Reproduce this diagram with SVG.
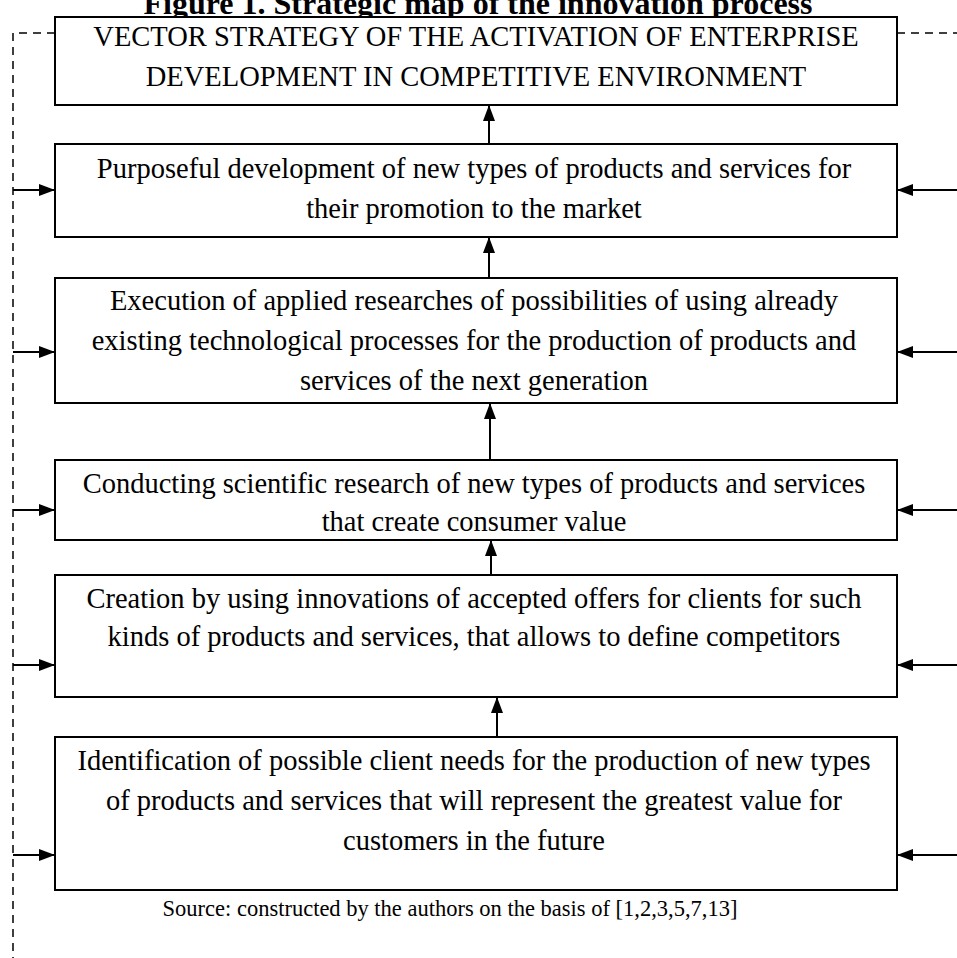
<svg xmlns="http://www.w3.org/2000/svg" width="957" height="958" viewBox="0 0 957 958">
<style>
.box{fill:#fff;stroke:#000;stroke-width:2}
.t{font-family:"Liberation Serif","Times New Roman",serif;font-size:28.5px;fill:#000;text-anchor:middle}
.ln{stroke:#000;stroke-width:2;fill:none}
.dash{stroke:#000;stroke-width:1.5;fill:none;stroke-dasharray:8,6}
.src{font-family:"Liberation Serif","Times New Roman",serif;font-size:22.5px;fill:#000;text-anchor:middle}
.ttl{font-family:"Liberation Serif","Times New Roman",serif;font-size:32px;font-weight:bold;fill:#000;text-anchor:middle}
</style>
<defs>
<marker id="ah" markerWidth="16" markerHeight="12" refX="15" refY="6" orient="auto" markerUnits="userSpaceOnUse">
<path d="M0,0 L16,6 L0,12 Z" fill="#000"/>
</marker>
</defs>
<text class="ttl" x="478" y="14">Figure 1. Strategic map of the innovation process</text>
<g id="connectors">
<path class="dash" d="M55,33 H13 V958"/>
<path class="dash" d="M897,33 H957"/>
<line class="ln" x1="13" y1="190" x2="54" y2="190" marker-end="url(#ah)"/>
<line class="ln" x1="13" y1="352" x2="54" y2="352" marker-end="url(#ah)"/>
<line class="ln" x1="13" y1="510" x2="54" y2="510" marker-end="url(#ah)"/>
<line class="ln" x1="13" y1="665" x2="54" y2="665" marker-end="url(#ah)"/>
<line class="ln" x1="13" y1="855" x2="54" y2="855" marker-end="url(#ah)"/>
<line class="ln" x1="957" y1="190" x2="898" y2="190" marker-end="url(#ah)"/>
<line class="ln" x1="957" y1="352" x2="898" y2="352" marker-end="url(#ah)"/>
<line class="ln" x1="957" y1="510" x2="898" y2="510" marker-end="url(#ah)"/>
<line class="ln" x1="957" y1="665" x2="898" y2="665" marker-end="url(#ah)"/>
<line class="ln" x1="957" y1="855" x2="898" y2="855" marker-end="url(#ah)"/>
<line class="ln" x1="489" y1="144" x2="489" y2="106" marker-end="url(#ah)"/>
<line class="ln" x1="489" y1="278" x2="489" y2="238" marker-end="url(#ah)"/>
<line class="ln" x1="490" y1="460" x2="490" y2="404" marker-end="url(#ah)"/>
<line class="ln" x1="491" y1="575" x2="491" y2="541" marker-end="url(#ah)"/>
<line class="ln" x1="497" y1="737" x2="497" y2="698" marker-end="url(#ah)"/>
</g>
<g id="n1">
<rect class="box" x="55" y="17" width="842" height="88"/>
<text class="t" x="476" y="46">VECTOR STRATEGY OF THE ACTIVATION OF ENTERPRISE</text>
<text class="t" x="476" y="86">DEVELOPMENT IN COMPETITIVE ENVIRONMENT</text>
</g>
<g id="n2">
<rect class="box" x="55" y="144" width="842" height="93"/>
<text class="t" x="474" y="178">Purposeful development of new types of products and services for</text>
<text class="t" x="474" y="218">their promotion to the market</text>
</g>
<g id="n3">
<rect class="box" x="55" y="278" width="842" height="125"/>
<text class="t" x="474" y="310">Execution of applied researches of possibilities of using already</text>
<text class="t" x="474" y="350">existing technological processes for the production of products and</text>
<text class="t" x="474" y="390">services of the next generation</text>
</g>
<g id="n4">
<rect class="box" x="55" y="460" width="842" height="80"/>
<text class="t" x="474" y="493">Conducting scientific research of new types of products and services</text>
<text class="t" x="474" y="531">that create consumer value</text>
</g>
<g id="n5">
<rect class="box" x="55" y="575" width="842" height="122"/>
<text class="t" x="474" y="608">Creation by using innovations of accepted offers for clients for such</text>
<text class="t" x="474" y="646">kinds of products and services, that allows to define competitors</text>
</g>
<g id="n6">
<rect class="box" x="55" y="737" width="842" height="153"/>
<text class="t" x="474" y="770">Identification of possible client needs for the production of new types</text>
<text class="t" x="474" y="810">of products and services that will represent the greatest value for</text>
<text class="t" x="474" y="850">customers in the future</text>
</g>
<text class="src" x="450" y="916">Source: constructed by the authors on the basis of [1,2,3,5,7,13]</text>
</svg>
